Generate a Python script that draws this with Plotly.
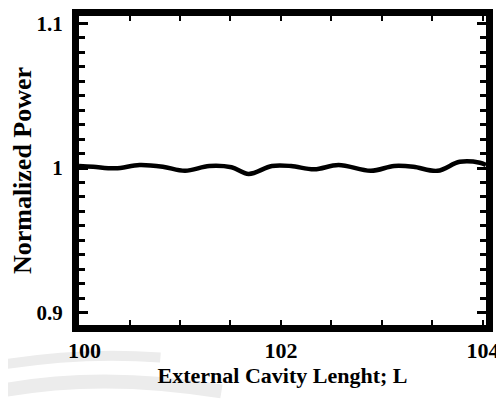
import plotly.graph_objects as go

# Data
cavity_length = [100.0, 100.14, 100.36, 100.6, 100.83, 101.05, 101.29, 101.51, 101.68,
                 101.91, 102.10, 102.33, 102.57, 102.89, 103.12, 103.31, 103.55, 103.77,
                 103.97, 104.03]
norm_power = [1.0014, 1.0009, 0.9998, 1.0021, 1.0009, 0.9981, 1.0014, 1.0005, 0.9959,
              1.0014, 1.0014, 0.9991, 1.0021, 0.9981, 1.0014, 1.0009, 0.9981, 1.0043,
              1.0037, 1.0021]

x_range = [100.0, 104.03]
y_range = [0.8914, 1.1052]
x_tick_vals = [100, 102, 104]
x_tick_text = ["\u2002100", "102", "104"]
y_tick_vals = [0.9, 1.0, 1.1]
y_tick_text = ["0.9", "1", "1.1"]

font_family = "Liberation Serif"

fig = go.Figure()
fig.add_trace(go.Scatter(
    x=cavity_length, y=norm_power, mode="lines",
    line=dict(color="black", width=4.5, shape="spline", smoothing=1.0),
    showlegend=False, hoverinfo="skip", cliponaxis=True,
))

# faint background watermark arcs (decoration)
fig.add_shape(type="path", xref="paper", yref="paper", layer="below",
              path="M -0.20,-0.131 Q 0.0025,-0.0855 0.20,-0.105",
              line=dict(color="#ececec", width=10))
fig.add_shape(type="path", xref="paper", yref="paper", layer="below",
              path="M -0.20,-0.215 Q 0.05,-0.15 0.35,-0.215",
              line=dict(color="#ececec", width=14))

# page body has an 8px default margin, so the figure is sized/placed to compensate
fig.update_layout(
    width=496, height=393,
    margin=dict(l=71, r=17.5, t=7.5, b=75.5, pad=0),
    paper_bgcolor="white", plot_bgcolor="white",
    font=dict(family=font_family, color="black"),
    xaxis=dict(
        range=x_range, showgrid=False, zeroline=False, automargin=False,
        showline=True, linecolor="black", linewidth=7, mirror="allticks",
        tickvals=x_tick_vals, ticktext=x_tick_text,
        ticks="inside", ticklen=5, tickwidth=2, tickcolor="black",
        ticklabeloverflow="allow",
        tickfont=dict(size=22, family=font_family, weight="bold"),
        minor=dict(dtick=0.5, tick0=100, ticks="inside", ticklen=5, tickwidth=2, tickcolor="black", showgrid=False),
        title=dict(text="External Cavity Lenght; L", font=dict(size=22, family=font_family, weight="bold"), standoff=0),
    ),
    yaxis=dict(
        range=y_range, showgrid=False, zeroline=False, automargin=False,
        showline=True, linecolor="black", linewidth=7, mirror="allticks",
        tickvals=y_tick_vals, ticktext=y_tick_text,
        ticks="inside", ticklen=9, tickwidth=3, tickcolor="black",
        ticklabelstandoff=5, ticklabeloverflow="allow",
        tickfont=dict(size=21, family=font_family, weight="bold"),
        minor=dict(dtick=0.01, tick0=0.9, ticks="inside", ticklen=6, tickwidth=3, tickcolor="black", showgrid=False),
        title=dict(text="Normalized Power", font=dict(size=26, family=font_family, weight="bold"), standoff=8),
    ),
)

fig.write_html("out.html")
